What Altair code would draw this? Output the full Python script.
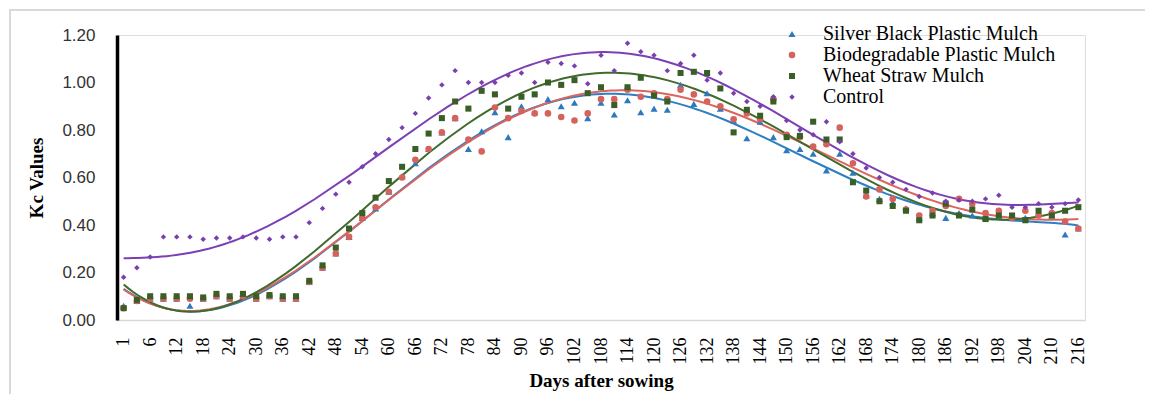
import altair as alt
import pandas as pd

series_names = ["Silver Black Plastic Mulch", "Biodegradable Plastic Mulch",
                "Wheat Straw Mulch", "Control"]

days = [1, 3, 6, 9, 12, 15, 18, 21, 24, 27, 30, 33, 36, 39, 42, 45, 48, 51, 54,
        57, 60, 63, 66, 69, 72, 75, 78, 81, 84, 87, 90, 93, 96, 99, 102, 105,
        108, 111, 114, 117, 120, 123, 126, 129, 132, 135, 138, 141, 144, 147,
        150, 153, 156, 159, 162, 165, 168, 171, 174, 177, 180, 183, 186, 189,
        192, 195, 198, 201, 204, 207, 210, 213, 216]

silver = [0.06, 0.08, 0.09, 0.09, 0.09, 0.06, 0.09, 0.10, 0.09, 0.10, 0.09, 0.10, 0.09, 0.09,
          0.16, 0.22, 0.28, 0.35, 0.43, 0.47, 0.54, 0.605, 0.66, 0.72, 0.79, 0.85,
          0.72, 0.795, 0.875, 0.77, 0.90, 0.875, 0.93, 0.90, 0.915, 0.85, 0.915, 0.865,
          0.925, 0.875, 0.89, 0.885, 0.99, 0.91, 0.955, 0.89,
          0.84, 0.765, 0.835, 0.77, 0.715, 0.72, 0.70, 0.63, 0.70, 0.62, 0.525, 0.51,
          0.495, 0.47, 0.43, 0.45, 0.43, 0.45, 0.44, 0.43, 0.44, 0.44, 0.43, 0.45,
          0.44, 0.36, 0.385]

biodegradable = [0.05, 0.08, 0.09, 0.09, 0.09, 0.09, 0.09, 0.10, 0.09, 0.10, 0.09, 0.10, 0.09, 0.09,
                 0.16, 0.22, 0.28, 0.35, 0.43, 0.475, 0.54, 0.60, 0.675, 0.72, 0.79, 0.85,
                 0.76, 0.71, 0.895, 0.85, 0.88, 0.87, 0.87, 0.855, 0.84, 0.87, 0.93, 0.93,
                 0.97, 0.94, 0.955, 0.93, 0.97, 0.95, 0.92, 0.90,
                 0.845, 0.87, 0.845, 0.93, 0.78, 0.77, 0.73, 0.74, 0.81, 0.66, 0.52, 0.55,
                 0.51, 0.465, 0.44, 0.46, 0.48, 0.51, 0.49, 0.45, 0.46, 0.43, 0.46, 0.44,
                 0.45, 0.415, 0.385]

wheat = [0.05, 0.085, 0.10, 0.10, 0.10, 0.10, 0.095, 0.11, 0.10, 0.11, 0.10, 0.105, 0.10, 0.10,
         0.165, 0.23, 0.305, 0.385, 0.45, 0.515, 0.585, 0.645, 0.72, 0.785, 0.85, 0.92,
         0.89, 0.965, 0.95, 0.89, 0.94, 0.95, 1.00, 0.99, 1.01, 0.955, 0.98, 0.905,
         0.98, 1.02, 0.945, 0.92, 1.04, 1.045, 1.04, 0.975,
         0.79, 0.885, 0.86, 0.92, 0.77, 0.775, 0.835, 0.76, 0.76, 0.58, 0.545, 0.50,
         0.48, 0.46, 0.42, 0.44, 0.49, 0.44, 0.465, 0.425, 0.44, 0.44, 0.42, 0.46,
         0.44, 0.46, 0.475]

control = [0.18, 0.22, 0.265, 0.35, 0.35, 0.35, 0.34, 0.345, 0.345, 0.35, 0.345, 0.34, 0.35, 0.35,
           0.41, 0.47, 0.53, 0.58, 0.645, 0.70, 0.76, 0.81, 0.87, 0.935, 0.99, 1.05,
           1.00, 1.00, 1.00, 1.03, 1.04, 1.00, 1.085, 1.08, 1.07, 0.995, 1.115, 1.05,
           1.165, 1.13, 1.115, 1.05, 1.08, 1.115, 1.01, 1.04,
           0.955, 0.92, 0.90, 0.94, 0.84, 0.80, 0.78, 0.835, 0.75, 0.70, 0.64, 0.60,
           0.58, 0.55, 0.52, 0.535, 0.50, 0.505, 0.50, 0.51, 0.525, 0.475, 0.475, 0.49,
           0.475, 0.49, 0.505]

y_ticks = [0.0, 0.2, 0.4, 0.6, 0.8, 1.0, 1.2]

point_colors = ["#2e79bd", "#d5625d", "#3a5f26", "#7a3fae"]
line_colors = ["#2e7fc2", "#dd6560", "#3f6b2c", "#7b40b4"]
shapes = ["triangle-up", "circle", "square", "diamond"]
sizes = [50, 30, 40, 30]

rows = []
for name, vals in zip(series_names, [silver, biodegradable, wheat, control]):
    for i, v in enumerate(vals):
        rows.append({"idx": i, "day": days[i], "series": name, "value": v})
df = pd.DataFrame(rows)

n_last = len(days) - 1
half = n_last / 2
label_expr = "[" + ",".join(str(d) for d in days) + "][datum.value]"

x_enc = alt.X("idx:Q",
              scale=alt.Scale(domain=[-0.5, len(days) - 0.5], nice=False, zero=False),
              axis=alt.Axis(values=list(range(0, len(days), 2)), labelExpr=label_expr,
                            labelAngle=270, ticks=False, grid=False, labelPadding=17,
                            labelFont="Liberation Serif", labelFontSize=18,
                            labelColor="#000000", domainColor="#d9d9d9", domainWidth=1.5,
                            title="Days after sowing", titleFont="Liberation Serif",
                            titleFontSize=19, titleFontWeight="bold", titleColor="#000000",
                            titlePadding=7, labelOverlap=False))

y_enc = alt.Y("value:Q",
              scale=alt.Scale(domain=[0, 1.2], nice=False),
              axis=alt.Axis(values=y_ticks, format=".2f", ticks=False, grid=False,
                            labelPadding=22, labelFont="Liberation Sans", labelFontSize=17,
                            labelColor="#333333", domainColor="#000000", domainWidth=3.5,
                            title="Kc Values", titleFont="Liberation Serif", titleFontSize=19,
                            titleFontWeight="bold", titleColor="#000000", titlePadding=15))

# light grey frame around the figure (decoration only)
frame_top = alt.Chart(df).mark_rule(color="#d9d9d9", strokeWidth=1.5).encode(
    x=alt.value(-108), x2=alt.value(1028), y=alt.value(-25))
frame_left = alt.Chart(df).mark_rule(color="#d9d9d9", strokeWidth=1.5).encode(
    x=alt.value(-107), y=alt.value(-25), y2=alt.value(360))

layers = [frame_top, frame_left]
for name, c in zip(series_names, line_colors):
    layers.append(
        alt.Chart(df).transform_filter(alt.datum.series == name)
        .transform_calculate(t=f"(datum.idx - {half}) / {half}")
        .transform_regression("t", "value", method="poly", order=6, extent=[-1, 1])
        .transform_calculate(idx=f"datum.t * {half} + {half}")
        .mark_line(strokeWidth=2, color=c).encode(x=x_enc, y=y_enc)
    )

legend_kw = dict(title=None, orient="none", legendX=665, legendY=-11,
                 labelFont="Liberation Serif", labelFontSize=20, labelColor="#000000",
                 labelLimit=0, symbolSize=40, labelOffset=21, rowPadding=1)

points = alt.Chart(df).mark_point(filled=True, opacity=1).encode(
    x=x_enc, y=y_enc,
    color=alt.Color("series:N", scale=alt.Scale(domain=series_names, range=point_colors),
                    legend=alt.Legend(**legend_kw)),
    shape=alt.Shape("series:N", scale=alt.Scale(domain=series_names, range=shapes),
                    legend=alt.Legend(**legend_kw)),
    size=alt.Size("series:N", scale=alt.Scale(domain=series_names, range=sizes), legend=None),
)
layers.append(points)

chart = alt.layer(*layers).properties(
    width=968, height=285,
    padding={"left": 109, "top": 27, "right": 60, "bottom": 74},
    autosize="none",
).configure_view(stroke=None).configure(background="#ffffff")

chart.save("out.html", embed_options={"renderer": "svg", "actions": False})
